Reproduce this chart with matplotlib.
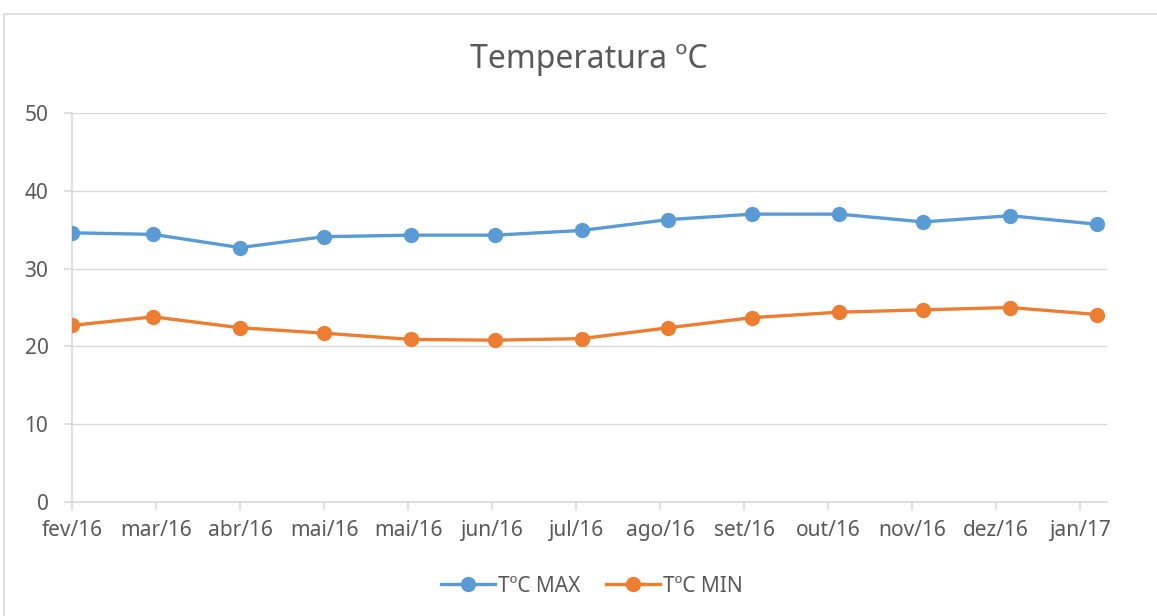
import numpy as np
import matplotlib
matplotlib.use("Agg")
import matplotlib.pyplot as plt
import matplotlib.dates as mdates
from matplotlib.patches import Rectangle
from matplotlib.lines import Line2D

# monthly readings (first day of each month)
dates = np.array(["2016-02-01", "2016-03-01", "2016-04-01", "2016-05-01", "2016-06-01",
                  "2016-07-01", "2016-08-01", "2016-09-01", "2016-10-01", "2016-11-01",
                  "2016-12-01", "2017-01-01", "2017-02-01"], dtype="datetime64[D]")
t_max = [34.6, 34.4, 32.7, 34.1, 34.3, 34.3, 34.9, 36.3, 37.0, 37.0, 36.0, 36.8, 35.7]
t_min = [22.7, 23.8, 22.4, 21.7, 20.9, 20.8, 21.0, 22.4, 23.7, 24.4, 24.7, 25.0, 24.1]
tick_labels = ["fev/16", "mar/16", "abr/16", "mai/16", "mai/16", "jun/16", "jul/16",
               "ago/16", "set/16", "out/16", "nov/16", "dez/16", "jan/17"]

txt = "#595959"
plt.rcParams['font.family'] = ['Noto Sans', 'DejaVu Sans']

fig = plt.figure(figsize=(11.57, 6.16), dpi=100)
ax = fig.add_axes([72/1157, 114/616, 1035/1157, 389/616])

x = mdates.date2num(dates.astype("datetime64[s]").astype(object))
ax.plot(x, t_max, color="#5B9BD5", lw=2.4, marker="o", ms=10, label="TºC MAX", zorder=3)
ax.plot(x, t_min, color="#ED7D31", lw=2.4, marker="o", ms=10, label="TºC MIN", zorder=3)

# date axis, major unit 30 days
x0 = x[0]
ax.set_xlim(x0, x0 + 369.6)
ax.set_xticks(x0 + 30 * np.arange(len(tick_labels)))
ax.set_xticklabels(tick_labels)
ax.set_ylim(0, 50)
ax.set_yticks(range(0, 51, 10))

ax.grid(axis="y", color="#D9D9D9", lw=1)
ax.set_axisbelow(True)
for s in ["top", "right"]:
    ax.spines[s].set_visible(False)
for s in ["left", "bottom"]:
    ax.spines[s].set_color("#D9D9D9")
    ax.spines[s].set_linewidth(1.2)
ax.tick_params(axis="both", colors="#D9D9D9", labelcolor=txt, labelsize=15,
               length=6, width=1.2, direction="out")
ax.tick_params(axis="x", pad=7)
ax.tick_params(axis="y", pad=11)

fig.text(589/1157, 1 - 60/616, "Temperatura ºC", ha="center", va="center",
         fontsize=23, color=txt)

handles = [Line2D([], [], color="#5B9BD5", lw=2.4, marker="o", ms=10),
           Line2D([], [], color="#ED7D31", lw=2.4, marker="o", ms=10)]
fig.legend(handles, ["TºC MAX", "TºC MIN"], loc="center", bbox_to_anchor=(592/1157, 1 - 586/616),
           ncol=2, frameon=False, fontsize=15, labelcolor=txt, handlelength=2.6,
           columnspacing=1.2, handletextpad=0.15)

fig.patches.append(Rectangle((4/1157, -0.05), 1.2, 1.05 - 14/616, transform=fig.transFigure,
                             fill=False, edgecolor="#D9D9D9", lw=1.2))

fig.savefig("out.png", dpi=100)
